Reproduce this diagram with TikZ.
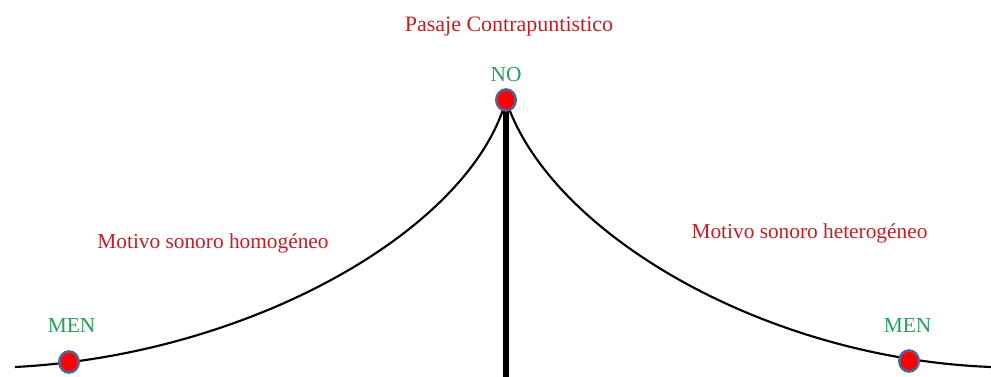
\documentclass[tikz,border=0pt]{standalone}
\usepackage{fontspec}
\setmainfont{Liberation Serif}
\usetikzlibrary{shapes.geometric}
\definecolor{txtred}{RGB}{196,30,36}
\definecolor{txtgreen}{RGB}{34,160,90}
\definecolor{dotborder}{RGB}{80,100,150}
\tikzset{
  redlabel/.style={text=txtred, font=\fontsize{16}{18}\selectfont, inner sep=0pt, anchor=base},
  greenlabel/.style={text=txtgreen, font=\fontsize{16}{18}\selectfont, inner sep=0pt, anchor=base},
  dotnode/.style={ellipse, draw=dotborder, line width=1.9pt, fill=red, minimum width=14.6pt, minimum height=15.8pt, inner sep=0pt},
  curveline/.style={line width=1.6pt, black},
  axisline/.style={line width=4.5pt, black}
}
\begin{document}
\begin{tikzpicture}[x=0.75pt, y=-0.75pt]
\useasboundingbox[fill=white] (0,0) rectangle (991,377);
% coordinates
\coordinate (lstart) at (15,367);
\coordinate (rend) at (991,367);
\coordinate (apex) at (506,100);
\coordinate (base) at (506,377);
% curves and axis
\draw[curveline] (lstart) .. controls (250,355) and (470,230) .. (apex);
\draw[curveline] (apex) .. controls (548,230) and (760,358) .. (rend);
\draw[axisline] (apex) -- (base);
% dots
\node[dotnode] (topdot) at (apex) {};
\node[dotnode] (leftdot) at (69,362) {};
\node[dotnode] (rightdot) at (909,361) {};
% labels
\node[redlabel, font=\fontsize{16.5}{18}\selectfont] (title) at (509,31.5) {Pasaje Contrapuntistico};
\node[greenlabel] (no) at (506,82) {NO};
\node[greenlabel] (menl) at (71.5,332) {MEN};
\node[greenlabel] (menr) at (907.5,332) {MEN};
\node[redlabel] (homo) at (213,249) {Motivo sonoro homogéneo};
\node[redlabel] (hetero) at (809.5,239) {Motivo sonoro heterogéneo};
\end{tikzpicture}
\end{document}
